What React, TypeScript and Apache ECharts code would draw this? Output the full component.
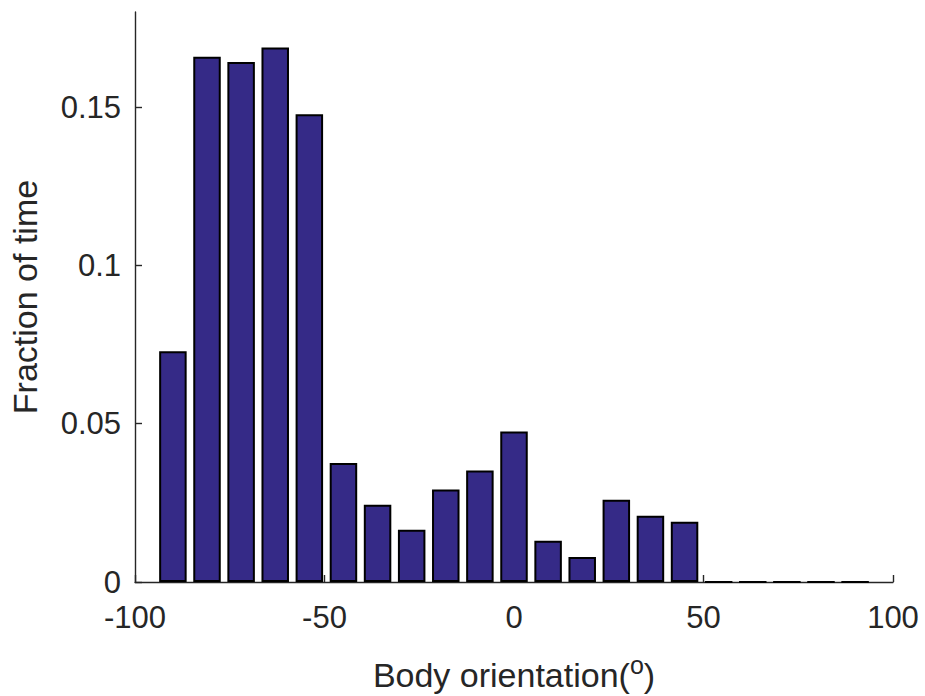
import React, { useEffect, useRef } from 'react';
import * as echarts from 'echarts';

const binCenters = [-90, -81, -72, -63, -54, -45, -36, -27, -18, -9, 0, 9, 18, 27, 36, 45, 54, 63, 72, 81, 90];
const fractions = [0.0729, 0.1659, 0.1642, 0.1688, 0.1477, 0.0376, 0.0244, 0.0165, 0.0292, 0.0352, 0.0475, 0.013, 0.0079, 0.026, 0.0209, 0.019, 0, 0, 0, 0, 0];
const xTicks = [-100, -50, 0, 50, 100];
const yTicks = [0, 0.05, 0.1, 0.15];
const xTitle = 'Body orientation(';
const yTitle = 'Fraction of time';

const FONT = "'Liberation Sans', Arial, Helvetica, sans-serif";
const INK = '#262626';

export default function App() {
  const ref = useRef<HTMLDivElement>(null);
  useEffect(() => {
    document.body.style.margin = '0';
    if (!ref.current) return;
    const chart = echarts.init(ref.current, null, { renderer: 'svg' });
    chart.setOption({
      animation: false,
      backgroundColor: '#ffffff',
      grid: { left: 135, right: 32, top: 12, bottom: 114, containLabel: false, outerBoundsMode: 'none' },
      xAxis: {
        type: 'value',
        min: -100,
        max: 100,
        interval: 50,
        splitLine: { show: false },
        axisLine: { show: true, onZero: false, lineStyle: { color: INK, width: 1.4 } },
        axisTick: { show: true, inside: true, length: 7, lineStyle: { color: INK, width: 1.4 }, customValues: xTicks },
        axisLabel: { color: INK, fontSize: 31, fontFamily: FONT, margin: 20, customValues: xTicks },
        name: '{m|' + xTitle + '}{s|o}{m|)}',
        nameLocation: 'middle',
        nameGap: 70,
        nameTextStyle: {
          rich: {
            m: { fontSize: 34, fontFamily: FONT, color: INK, lineHeight: 40, verticalAlign: 'bottom' },
            s: { fontSize: 25, fontFamily: FONT, color: INK, lineHeight: 26, verticalAlign: 'top' },
          },
        },
      },
      yAxis: {
        type: 'value',
        min: 0,
        max: 0.18,
        interval: 0.05,
        splitLine: { show: false },
        axisLine: { show: true, onZero: false, lineStyle: { color: INK, width: 1.4 } },
        axisTick: { show: true, inside: true, length: 7, lineStyle: { color: INK, width: 1.4 }, customValues: yTicks },
        axisLabel: { color: INK, fontSize: 31, fontFamily: FONT, margin: 14, customValues: yTicks },
        name: yTitle,
        nameLocation: 'middle',
        nameRotate: 90,
        nameGap: 93,
        nameTextStyle: { fontSize: 34, fontFamily: FONT, color: INK },
      },
      series: [
        {
          type: 'bar',
          barWidth: 27.5,
          data: binCenters.map((c, i) => [c, fractions[i]]),
          itemStyle: { color: '#352a87', borderColor: '#000000', borderWidth: 2 },
        },
      ],
    });
    return () => chart.dispose();
  }, []);
  return <div ref={ref} style={{ width: 925, height: 696 }} />;
}
